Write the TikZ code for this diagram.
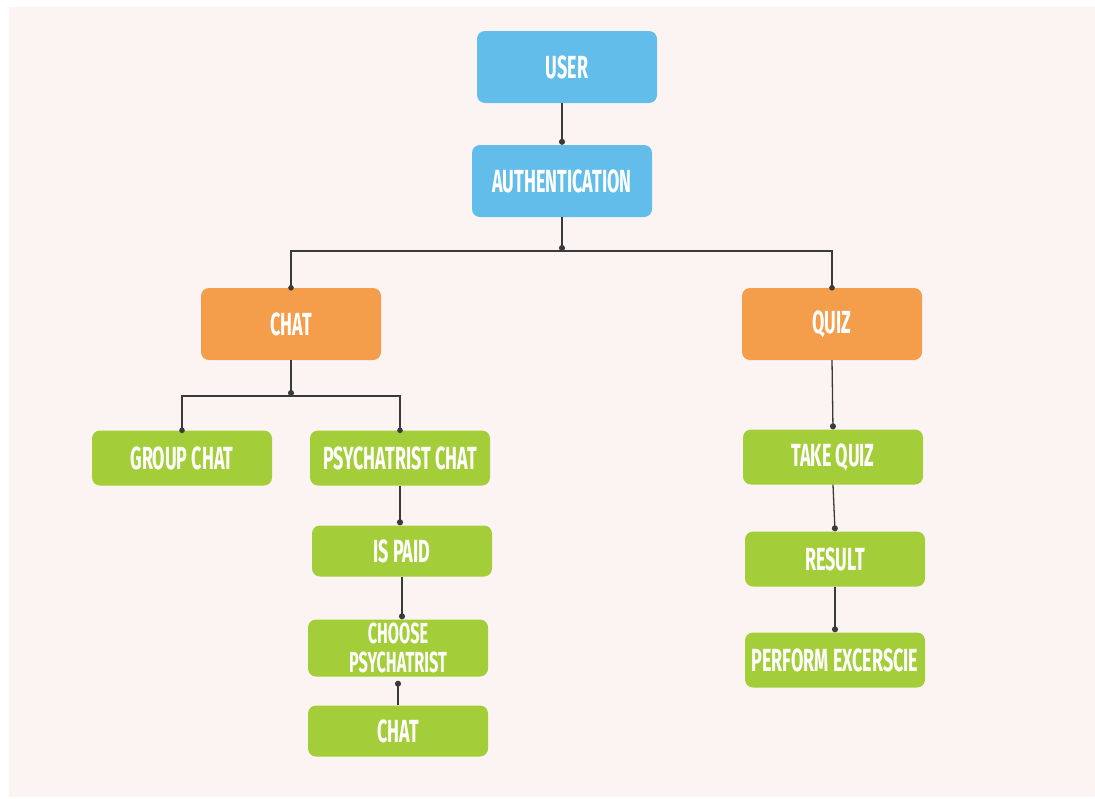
\documentclass[tikz,border=0pt]{standalone}
\usepackage{fontspec}
\newfontfamily\boxfont{Fira Sans}[FakeStretch=0.56]
\usetikzlibrary{arrows.meta}
\definecolor{bgpink}{HTML}{FCF4F2}
\definecolor{skyblue}{HTML}{63BDEA}
\definecolor{boxorange}{HTML}{F49D4A}
\definecolor{limegreen}{HTML}{A4CE39}
\definecolor{wire}{HTML}{3A3A3A}
\tikzset{
	box/.style={rounded corners=8pt, text=white, align=center, minimum width=180pt,
		font=\boxfont\bfseries\fontsize{32}{27}\selectfont, inner sep=0pt},
	topbox/.style={box, fill=skyblue, minimum height=72pt},
	midbox/.style={box, fill=boxorange, minimum height=72pt},
	leafbox/.style={box, fill=limegreen, minimum height=55pt},
	wireline/.style={draw=wire, line width=1.3pt},
	dotline/.style={wireline, -{Circle[length=6pt, width=6pt]}}
}

\begin{document}
\begin{tikzpicture}[x=1pt, y=-1pt]
		%%%%% START %%%%%
		
		\useasboundingbox (0, 0) rectangle (1095, 798);
		\fill[bgpink] (9, 7) rectangle (1095, 797);
		
		\node[topbox] (user) at (567, 67) {USER};
		\node[topbox] (auth) at (562, 181) {AUTHENTICATION};
		
		\node[midbox] (chat) at (291, 324) {CHAT};
		\node[midbox] (quiz) at (832, 324) {QUIZ};
		
		\node[leafbox] (groupchat) at (182, 458) {GROUP CHAT};
		\node[leafbox] (psychchat) at (400, 458) {PSYCHATRIST CHAT};
		\node[leafbox, minimum height=51pt] (ispaid) at (402, 551) {IS PAID};
		\node[leafbox, minimum height=57pt, font=\boxfont\bfseries\fontsize{29}{29}\selectfont] (choose) at (398, 648) {CHOOSE\\PSYCHATRIST};
		\node[leafbox, minimum height=51pt] (chatnow) at (398, 731) {CHAT};
		
		\node[leafbox] (takequiz) at (833, 457) {TAKE QUIZ};
		\node[leafbox] (result) at (835, 559) {RESULT};
		\node[leafbox] (perform) at (835, 660) {PERFORM EXCERSCIE};
		
		\coordinate (authsplit) at (562, 251);
		\coordinate (chatsplit) at (291, 396);
		
		\draw[dotline] (user.south -| auth) -- (auth.north);
		\draw[dotline] (auth.south) -- (authsplit);
		\draw[wireline] (authsplit) -| (chat.north);
		\draw[wireline] (authsplit) -| (quiz.north);
		\fill[wire] (chat.north) circle (2.8);
		\fill[wire] (quiz.north) circle (2.8);
		
		\draw[dotline] (chat.south) -- (chatsplit);
		\draw[wireline] (chatsplit) -| (groupchat.north);
		\draw[wireline] (chatsplit) -| (psychchat.north);
		\fill[wire] (groupchat.north) circle (2.8);
		\fill[wire] (psychchat.north) circle (2.8);
		
		\draw[dotline] (psychchat.south) -- (psychchat.south |- ispaid.north);
		\draw[dotline] (ispaid.south) -- (ispaid.south |- choose.north);
		\draw[dotline] (chatnow.north) -- ([yshift=-4pt]choose.south);
		
		\draw[dotline] (quiz.south) -- (takequiz.north);
		\draw[dotline] (takequiz.south) -- (result.north);
		\draw[dotline] (result.south) -- (perform.north);
		
		%%%%% END %%%%%
	\end{tikzpicture}
\end{document}
